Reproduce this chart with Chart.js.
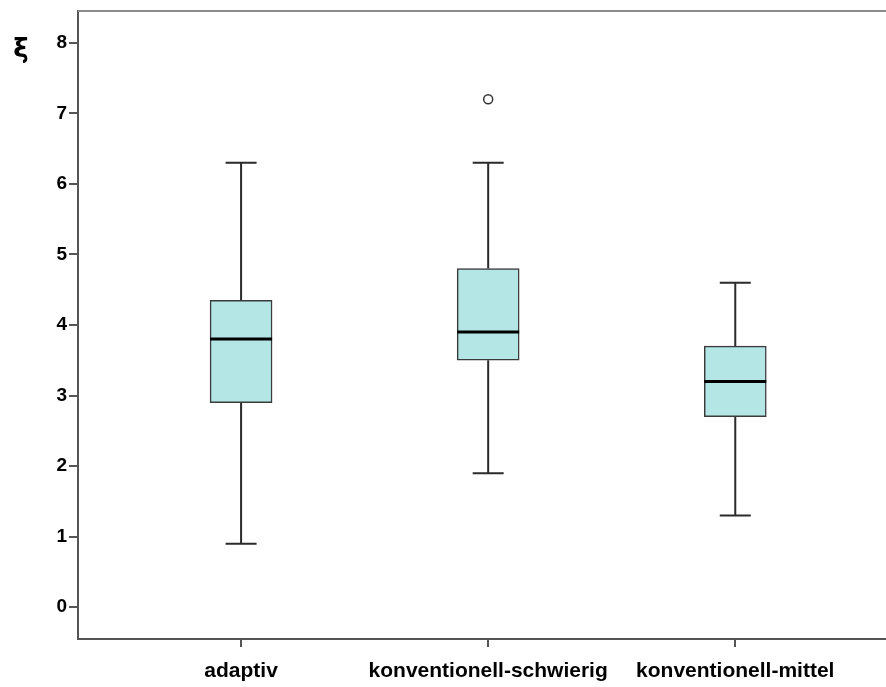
<!DOCTYPE html>
<html>
<head>
<meta charset="utf-8">
<script src="https://cdn.jsdelivr.net/npm/chart.js@4"></script>
<style>
html,body{margin:0;padding:0;background:#fff;overflow:hidden;}
#wrap{width:886px;height:687px;}
canvas{display:block;}
</style>
</head>
<body>
<div id="wrap"><canvas id="c" width="886" height="687"></canvas></div>
<script>
const categories = ['adaptiv', 'konventionell-schwierig', 'konventionell-mittel'];
const positions = [1, 2, 3];
const whiskerMin = [0.9, 1.9, 1.3];
const q1 = [2.9, 3.5, 2.7];
const median = [3.8, 3.9, 3.2];
const q3 = [4.35, 4.8, 3.7];
const whiskerMax = [6.3, 6.3, 4.6];
const outliers = [{cat: 2, value: 7.2}];
const yTicks = [0, 1, 2, 3, 4, 5, 6, 7, 8];
const yLabel = 'ξ';

const boxPlugin = {
  id: 'boxParts',
  beforeDatasetsDraw(chart) {
    const ctx = chart.ctx, xs = chart.scales.x, ys = chart.scales.y;
    ctx.save();
    ctx.strokeStyle = '#2b2b2b';
    ctx.lineWidth = 2;
    const capHalf = 15.5;
    positions.forEach((p, i) => {
      const x = xs.getPixelForValue(p);
      const yMin = ys.getPixelForValue(whiskerMin[i]);
      const yMax = ys.getPixelForValue(whiskerMax[i]);
      const yq1 = ys.getPixelForValue(q1[i]);
      const yq3 = ys.getPixelForValue(q3[i]);
      ctx.beginPath();
      ctx.moveTo(x, yq3); ctx.lineTo(x, yMax);
      ctx.moveTo(x - capHalf, yMax); ctx.lineTo(x + capHalf, yMax);
      ctx.moveTo(x, yq1); ctx.lineTo(x, yMin);
      ctx.moveTo(x - capHalf, yMin); ctx.lineTo(x + capHalf, yMin);
      ctx.stroke();
    });
    ctx.restore();
  },
  afterDatasetsDraw(chart) {
    const ctx = chart.ctx, xs = chart.scales.x, ys = chart.scales.y;
    ctx.save();
    ctx.strokeStyle = '#000';
    ctx.lineWidth = 3;
    const half = 31;
    positions.forEach((p, i) => {
      const x = xs.getPixelForValue(p);
      const y = ys.getPixelForValue(median[i]);
      ctx.beginPath();
      ctx.moveTo(x - half, y); ctx.lineTo(x + half, y);
      ctx.stroke();
    });
    ctx.restore();
  },
  afterDraw(chart) {
    const ctx = chart.ctx, a = chart.chartArea;
    ctx.save();
    ctx.strokeStyle = '#8c8c8c';
    ctx.lineWidth = 2;
    ctx.beginPath();
    ctx.moveTo(a.left, a.top);
    ctx.lineTo(chart.width, a.top);
    ctx.stroke();
    ctx.fillStyle = '#000';
    ctx.font = 'bold 26px "DejaVu Sans", "Liberation Sans", sans-serif';
    ctx.textAlign = 'center';
    ctx.textBaseline = 'middle';
    ctx.fillText(yLabel, 21, chart.scales.y.getPixelForValue(8) + 7);
    ctx.restore();
  }
};

new Chart(document.getElementById('c'), {
  type: 'bar',
  data: {
    datasets: [
      {
        type: 'bar',
        data: positions.map((p, i) => ({x: p, y: [q1[i], q3[i]]})),
        backgroundColor: '#b4e6e6',
        borderColor: '#3a3a3a',
        borderWidth: 1.5,
        borderSkipped: false,
        barThickness: 62,
        order: 2
      },
      {
        type: 'scatter',
        data: outliers.map(o => ({x: o.cat, y: o.value})),
        pointStyle: 'circle',
        pointRadius: 4.5,
        pointBackgroundColor: '#fff',
        pointBorderColor: '#333',
        pointBorderWidth: 1.5,
        order: 1
      }
    ]
  },
  options: {
    responsive: false,
    animation: false,
    devicePixelRatio: 1,
    layout: {autoPadding: false, padding: {top: 11, right: 0, left: 0, bottom: 0}},
    plugins: {legend: {display: false}, tooltip: {enabled: false}},
    scales: {
      x: {
        type: 'linear',
        offset: false,
        min: 0.34,
        max: 3.61,
        afterBuildTicks: s => { s.ticks = positions.map(v => ({value: v})); },
        afterFit: s => { s.height = 48; s.paddingRight = 0; s.paddingLeft = 0; },
        ticks: {
          callback: (v) => categories[positions.indexOf(v)] || '',
          color: '#000',
          font: {family: '"Liberation Sans", Arial, sans-serif', size: 21, weight: 'bold'},
          padding: 12,
          maxRotation: 0,
          autoSkip: false
        },
        grid: {offset: false, drawOnChartArea: false, drawTicks: true, tickLength: 8, color: '#555', lineWidth: 2},
        border: {display: true, color: '#555', width: 2}
      },
      y: {
        type: 'linear',
        min: -0.45,
        max: 8.45,
        afterBuildTicks: s => { s.ticks = yTicks.map(v => ({value: v})); },
        afterFit: s => { s.width = 78; s.paddingTop = 0; s.paddingBottom = 0; },
        ticks: {
          color: '#000',
          font: {family: '"Liberation Sans Narrow", "Liberation Sans", Arial, sans-serif', size: 19, weight: 'bold'},
          padding: 2
        },
        grid: {drawOnChartArea: false, drawTicks: true, tickLength: 9, color: '#555', lineWidth: 2},
        border: {display: true, color: '#555', width: 2}
      }
    }
  },
  plugins: [boxPlugin]
});
</script>
</body>
</html>
